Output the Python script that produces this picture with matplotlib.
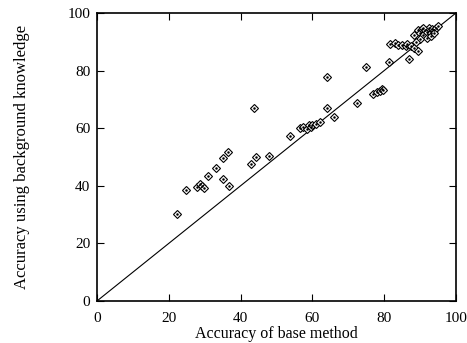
import matplotlib
matplotlib.use("Agg")
import matplotlib.pyplot as plt

# Accuracy of the base method (x) and with background knowledge (y)
base_acc = [22.3, 24.7, 27.7, 28.6, 29.1, 29.9, 31.0, 33.1, 35.0, 36.6,
            35.2, 36.8, 42.8, 44.3, 43.7, 48.0, 53.8,
            56.5, 57.5, 58.5, 59.0, 59.5, 60.0, 61.0, 62.0,
            64.2, 64.0, 66.0, 72.5, 74.9,
            77.0, 78.0, 78.8, 79.5, 79.8,
            81.5, 81.6, 83.0, 84.0, 85.0, 86.0, 86.5, 87.5, 88.5, 87.0, 89.5,
            88.5, 89.5, 90.0, 90.5, 91.0, 91.5, 92.0, 92.5, 93.0, 93.5,
            94.0, 94.5, 95.0, 91.0, 92.0, 93.0, 90.0, 89.0, 94.0]
bk_acc = [30.3, 38.5, 39.4, 40.5, 39.9, 39.1, 43.5, 46.0, 49.7, 51.6,
          42.2, 40.0, 47.5, 50.1, 67.2, 50.3, 57.4,
          60.0, 60.5, 59.8, 61.0, 60.5, 61.0, 61.5, 62.0,
          66.9, 77.9, 63.8, 68.9, 81.2,
          72.0, 72.5, 73.0, 73.5, 73.2,
          82.9, 89.3, 89.5, 88.8, 89.0, 88.5, 89.3, 88.5, 88.0, 84.0, 87.0,
          92.5, 94.0, 93.0, 94.5, 92.5, 94.0, 93.5, 95.0, 93.0, 94.5,
          94.0, 95.0, 95.5, 95.0, 91.5, 92.0, 91.0, 90.0, 93.0]

plt.rcParams["font.family"] = ["Liberation Serif", "DejaVu Serif"]

fig = plt.figure(figsize=(4.67, 3.43), dpi=100)
ax = fig.add_axes([0.2084, 0.1233, 0.7674, 0.8382])

ax.plot([0, 100], [0, 100], color="black", linewidth=0.8)
ax.plot(base_acc, bk_acc, linestyle="none", marker="D", markersize=4.3,
        markerfacecolor="white", markeredgecolor="black", markeredgewidth=0.8)
ax.plot(base_acc, bk_acc, linestyle="none", marker="o", markersize=0.8,
        color="black")

ax.set_xlim(0, 100)
ax.set_ylim(0, 100)
ax.set_xticks([0, 20, 40, 60, 80, 100])
ax.set_yticks([0, 20, 40, 60, 80, 100])
ax.tick_params(direction="in", length=5, width=0.8, top=True, right=True,
               labelsize=11)
ax.tick_params(axis="x", pad=8)
ax.tick_params(axis="y", pad=5)
for s in ax.spines.values():
    s.set_linewidth(1.2)

ax.set_xlabel("Accuracy of base method", fontsize=11.5, labelpad=1)
ax.set_ylabel("Accuracy using background knowledge", fontsize=12, labelpad=27)

fig.savefig("out.png", dpi=100)
